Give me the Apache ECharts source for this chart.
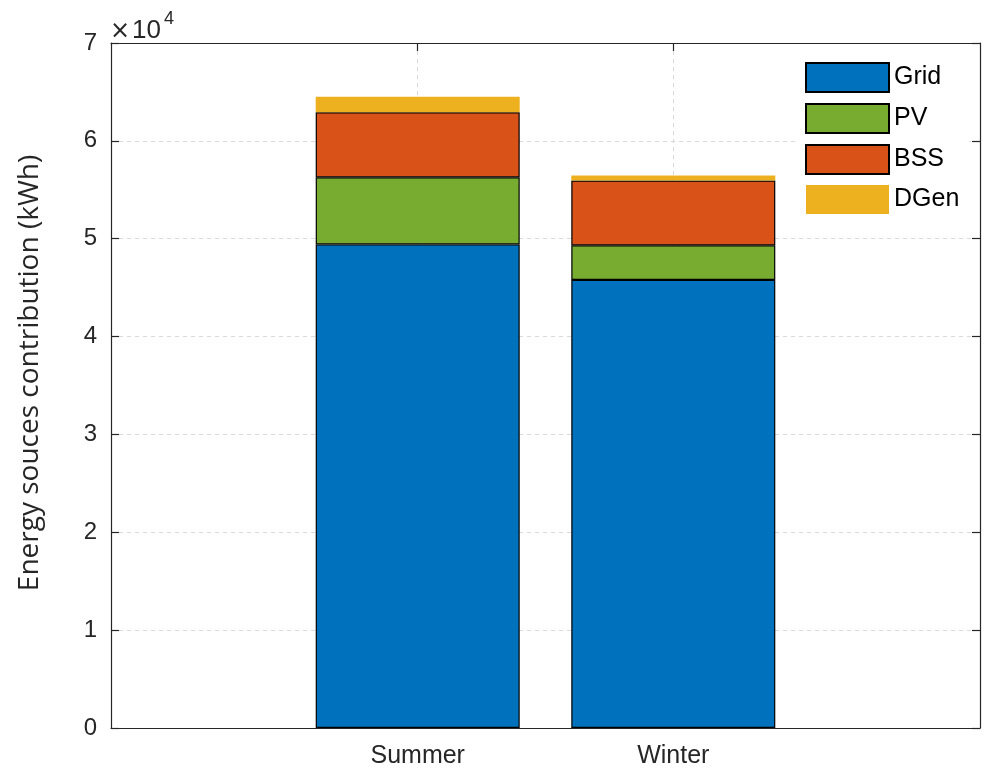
<!DOCTYPE html>
<html>
<head>
<meta charset="utf-8">
<script src="https://cdn.jsdelivr.net/npm/echarts@6/dist/echarts.min.js"></script>
<style>
  html, body { margin: 0; padding: 0; background: #fff; }
  #chart { width: 984px; height: 769px; }
</style>
</head>
<body>
<div id="chart"></div>
<script>
// Seasons on the x axis, placed at bar positions 1 and 2
const seasons = ['Summer', 'Winter'];
const seasonPos = [1, 2];

// Energy contribution per source (kWh)
const gridKWh = [49420, 45790];
const pvKWh   = [6850, 3530];
const bssKWh  = [6660, 6630];
const dgenKWh = [1590, 510];

// Y tick values (kWh); labels are shown in units of 10^4
const yTicks = [0, 10000, 20000, 30000, 40000, 50000, 60000, 70000];

const seriesNames = ['Grid', 'PV', 'BSS', 'DGen'];
const seriesColors = ['#0072BD', '#77AC30', '#D95319', '#EDB120'];
const seriesValues = [gridKWh, pvKWh, bssKWh, dgenKWh];

// X axis runs from -0.2 to 3.2 in 0.2 steps so bar positions 1 and 2 fall on slots
const xMin = -0.2, xMax = 3.2, xStep = 0.2;
const xSlots = [];
for (let v = xMin; v <= xMax + 1e-9; v += xStep) xSlots.push(Math.round(v * 10) / 10);
const slotOf = p => xSlots.indexOf(p);
const seasonSlots = seasonPos.map(slotOf);
const xCategories = xSlots.map(v => {
  const k = seasonPos.indexOf(v);
  return k >= 0 ? seasons[k] : String(v);
});
const isSeasonSlot = idx => seasonSlots.indexOf(idx) >= 0;

const textColor = '#262626';
const tickFont = 'Liberation Sans, Arial, Helvetica, sans-serif';

const chart = echarts.init(document.getElementById('chart'), null, { renderer: 'canvas' });

const series = seriesNames.map((name, i) => {
  const data = xSlots.map(() => '-');
  seasonSlots.forEach((s, j) => { data[s] = seriesValues[i][j]; });
  return {
    name: name,
    type: 'bar',
    stack: 'energy',
    xAxisIndex: 0,
    yAxisIndex: 0,
    barWidth: 204,
    itemStyle: {
      color: seriesColors[i],
      borderColor: '#000',
      borderWidth: name === 'DGen' ? 0 : 1.2
    },
    emphasis: { disabled: true },
    data: data
  };
});

const axisLineStyle = { color: textColor, width: 1.2 };
const gridLineStyle = { color: '#d9d9d9', type: [4, 4], width: 1 };

const option = {
  animation: false,
  backgroundColor: '#fff',
  grid: { left: 111, right: 4, top: 43, bottom: 40, containLabel: false },
  legend: {
    data: seriesNames,
    orient: 'vertical',
    left: 795,
    top: 52,
    padding: [10, 10, 10, 10],
    backgroundColor: '#fff',
    itemWidth: 83,
    itemHeight: 29,
    itemGap: 10,
    selectedMode: false,
    icon: 'rect',
    textStyle: { fontFamily: tickFont, fontSize: 25, color: '#000' }
  },
  xAxis: [
    {
      type: 'category',
      position: 'bottom',
      data: xCategories,
      boundaryGap: false,
      axisLine: { show: true, onZero: false, lineStyle: axisLineStyle },
      axisTick: { show: true, inside: true, length: 8, interval: idx => isSeasonSlot(idx), lineStyle: axisLineStyle },
      axisLabel: {
        show: true,
        interval: idx => isSeasonSlot(idx),
        fontFamily: tickFont,
        fontSize: 25,
        color: textColor,
        margin: 16
      },
      splitLine: { show: true, interval: idx => isSeasonSlot(idx), lineStyle: gridLineStyle }
    },
    {
      type: 'category',
      position: 'top',
      data: xCategories,
      boundaryGap: false,
      axisLine: { show: true, onZero: false, lineStyle: axisLineStyle },
      axisTick: { show: true, inside: true, length: 8, interval: idx => isSeasonSlot(idx), lineStyle: axisLineStyle },
      axisLabel: { show: false },
      splitLine: { show: false }
    }
  ],
  yAxis: [
    {
      type: 'value',
      position: 'left',
      min: yTicks[0],
      max: yTicks[yTicks.length - 1],
      interval: yTicks[1] - yTicks[0],
      axisLine: { show: true, onZero: false, lineStyle: axisLineStyle },
      axisTick: { show: true, inside: true, length: 8, lineStyle: axisLineStyle },
      axisLabel: {
        formatter: v => String(v / 10000),
        fontFamily: tickFont,
        fontSize: 24,
        color: textColor,
        margin: 14
      },
      splitLine: { show: true, lineStyle: gridLineStyle }
    },
    {
      type: 'value',
      position: 'right',
      min: yTicks[0],
      max: yTicks[yTicks.length - 1],
      interval: yTicks[1] - yTicks[0],
      axisLine: { show: true, onZero: false, lineStyle: axisLineStyle },
      axisTick: { show: true, inside: true, length: 8, lineStyle: axisLineStyle },
      axisLabel: { show: false },
      splitLine: { show: false }
    }
  ],
  graphic: [
    {
      type: 'text',
      left: 110,
      top: 10,
      style: {
        text: '{x|×}{m|10}{e|4}',
        rich: {
          x: { fontFamily: 'DejaVu Sans, sans-serif', fontSize: 24, fill: textColor, verticalAlign: 'bottom', padding: [0, 2, 0, 0] },
          m: { fontFamily: tickFont, fontSize: 26, fill: textColor, verticalAlign: 'bottom' },
          e: { fontFamily: tickFont, fontSize: 18, fill: textColor, verticalAlign: 'top', padding: [0, 0, 16, 3] }
        }
      }
    },
    {
      type: 'text',
      x: 30,
      y: 373,
      rotation: Math.PI / 2,
      style: {
        text: 'Energy souces contribution (kWh)',
        fontFamily: 'Open Sans, DejaVu Sans, sans-serif',
        fontSize: 28,
        fill: textColor,
        align: 'center',
        verticalAlign: 'middle'
      }
    }
  ],
  series: series
};

chart.setOption(option);
</script>
</body>
</html>
